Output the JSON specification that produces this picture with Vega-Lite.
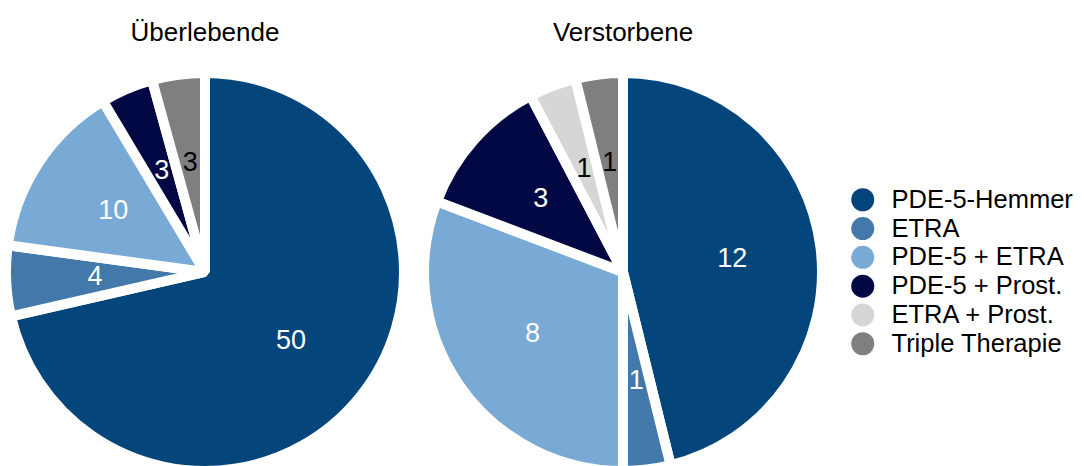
{
  "$schema": "https://vega.github.io/schema/vega-lite/v6.json",
  "padding": {"top": 20, "left": 0, "right": 0, "bottom": 0},
  "background": "white",
  "data": {
    "values": [
      {"gruppe": "Überlebende", "therapie": "PDE-5-Hemmer", "k": 1, "n": 50},
      {"gruppe": "Überlebende", "therapie": "ETRA", "k": 2, "n": 4},
      {"gruppe": "Überlebende", "therapie": "PDE-5 + ETRA", "k": 3, "n": 10},
      {"gruppe": "Überlebende", "therapie": "PDE-5 + Prost.", "k": 4, "n": 3},
      {"gruppe": "Überlebende", "therapie": "Triple Therapie", "k": 6, "n": 3},
      {"gruppe": "Verstorbene", "therapie": "PDE-5-Hemmer", "k": 1, "n": 12},
      {"gruppe": "Verstorbene", "therapie": "ETRA", "k": 2, "n": 1},
      {"gruppe": "Verstorbene", "therapie": "PDE-5 + ETRA", "k": 3, "n": 8},
      {"gruppe": "Verstorbene", "therapie": "PDE-5 + Prost.", "k": 4, "n": 3},
      {"gruppe": "Verstorbene", "therapie": "ETRA + Prost.", "k": 5, "n": 1},
      {"gruppe": "Verstorbene", "therapie": "Triple Therapie", "k": 6, "n": 1}
    ]
  },
  "facet": {
    "column": {
      "field": "gruppe",
      "type": "nominal",
      "sort": ["Überlebende", "Verstorbene"],
      "header": {
        "title": null,
        "labelFontSize": 26,
        "labelFont": "Liberation Sans",
        "labelColor": "black",
        "labelPadding": 10
      }
    }
  },
  "spacing": 8,
  "spec": {
    "width": 410,
    "height": 432,
    "encoding": {
      "theta": {"field": "n", "type": "quantitative", "stack": "normalize"},
      "order": {"field": "k", "type": "quantitative", "sort": "ascending"}
    },
    "layer": [
      {
        "mark": {"type": "arc", "outerRadius": 199, "stroke": "white", "strokeWidth": 10, "strokeJoin": "bevel"},
        "encoding": {
          "color": {
            "field": "therapie",
            "type": "nominal",
            "scale": {
              "domain": ["PDE-5-Hemmer", "ETRA", "PDE-5 + ETRA", "PDE-5 + Prost.", "ETRA + Prost.", "Triple Therapie"],
              "range": ["#04457B", "#4279AA", "#78AAD5", "#010844", "#D6D6D6", "#7F7F7F"]
            },
            "legend": {
              "title": null,
              "orient": "none",
              "legendX": 850,
              "legendY": 131,
              "symbolType": "circle",
              "symbolSize": 529,
              "symbolStrokeWidth": 0,
              "labelFontSize": 25.5,
              "labelFont": "Liberation Sans",
              "labelColor": "black",
              "labelOffset": 16,
              "rowPadding": 1.8,
              "labelLimit": 300
            }
          }
        }
      },
      {
        "mark": {"type": "text", "radius": 110, "fontSize": 27, "font": "Liberation Sans", "align": "center", "baseline": "middle"},
        "encoding": {
          "text": {"field": "n", "type": "quantitative"},
          "color": {
            "condition": {"test": "datum.therapie === 'ETRA + Prost.' || datum.therapie === 'Triple Therapie'", "value": "black"},
            "value": "white"
          }
        }
      }
    ]
  },
  "config": {
    "view": {"stroke": null}
  }
}
